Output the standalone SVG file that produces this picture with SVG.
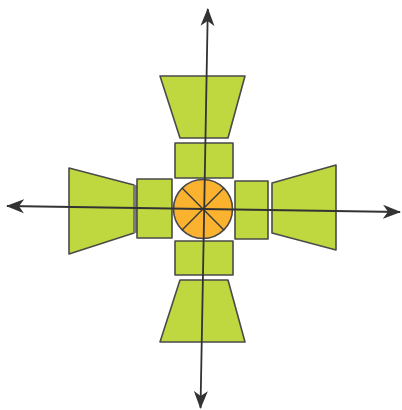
<svg xmlns="http://www.w3.org/2000/svg" width="402" height="410" viewBox="0 0 402 410">
<style>
.g{fill:#bfd83f;stroke:#4a4a4a;stroke-width:1.6;stroke-linejoin:round}
.o{fill:#fbb22f;stroke:#4a4a4a;stroke-width:1.6}
.d{stroke:#3a3a3a;stroke-width:1.4}
.ax{stroke:#333;stroke-width:1.8;fill:none}
</style>
<defs>
<marker id="ah" viewBox="0 0 18 16" refX="17" refY="8" markerWidth="18" markerHeight="16" markerUnits="userSpaceOnUse" orient="auto">
<path d="M0,1 L18,8 L0,15 L5,8 Z" fill="#333"/>
</marker>
</defs>
<rect width="402" height="410" fill="#fff"/>
<g id="top-trap"><polygon class="g" points="160,76 245,76 228,138 180,138"/></g>
<g id="top-square"><rect class="g" x="175" y="143" width="58" height="35"/></g>
<g id="bottom-square"><rect class="g" x="175" y="241" width="58" height="34"/></g>
<g id="bottom-trap"><polygon class="g" points="180,280 228,280 245,342 160,342"/></g>
<g id="left-trap"><polygon class="g" points="69,168 134,185 134,233 69,254"/><rect x="133" y="185" width="4" height="48" fill="#7a7a7a"/></g>
<g id="left-square"><rect class="g" x="137" y="179" width="35" height="59"/></g>
<g id="right-square"><rect class="g" x="235" y="181" width="33" height="58"/></g>
<g id="right-trap"><polygon class="g" points="272,183 336,165 336,250 272,233"/></g>
<g id="hub"><circle class="o" cx="203" cy="209" r="29.5"/>
<line class="d" x1="182.1" y1="188.1" x2="223.9" y2="229.9"/>
<line class="d" x1="223.9" y1="188.1" x2="182.1" y2="229.9"/></g>
<g id="connectors">
<line class="ax" x1="204.2" y1="209" x2="207.8" y2="9" marker-end="url(#ah)"/>
<line class="ax" x1="204.2" y1="209" x2="200.5" y2="408" marker-end="url(#ah)"/>
<line class="ax" x1="203" y1="209" x2="7" y2="206" marker-end="url(#ah)"/>
<line class="ax" x1="203" y1="209" x2="400" y2="212" marker-end="url(#ah)"/>
</g>
</svg>
